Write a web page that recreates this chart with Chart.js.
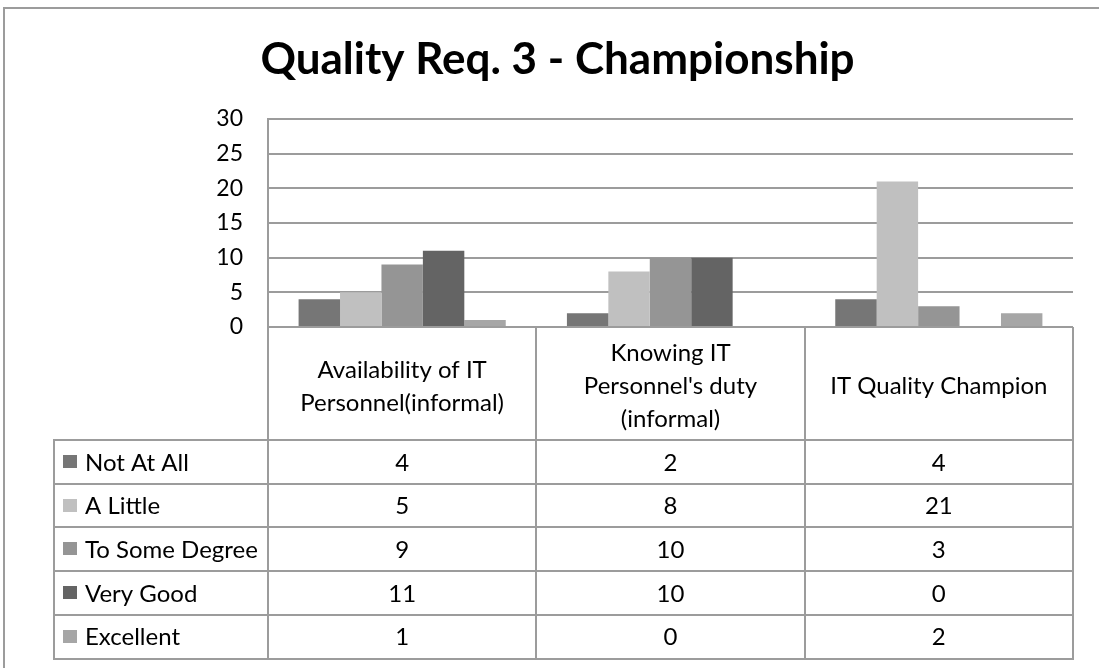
<!DOCTYPE html>
<html>
<head>
<meta charset="utf-8">
<title>Quality Req. 3 - Championship</title>
<script src="https://cdn.jsdelivr.net/npm/chart.js@4.4.1/dist/chart.umd.min.js"></script>
<style>
  html, body { margin: 0; padding: 0; background: #ffffff; }
  canvas { display: block; }
</style>
</head>
<body>
<canvas id="chart" width="1099" height="668"></canvas>
<script>
// Survey categories (multi-line labels for the table header)
const categories = [
  ["Availability of IT", "Personnel(informal)"],
  ["Knowing IT", "Personnel's duty", "(informal)"],
  ["IT Quality Champion"]
];

// Response counts per rating
const notAtAll     = [4, 2, 4];
const aLittle      = [5, 8, 21];
const toSomeDegree = [9, 10, 3];
const veryGood     = [11, 10, 0];
const excellent    = [1, 0, 2];

const seriesNames  = ["Not At All", "A Little", "To Some Degree", "Very Good", "Excellent"];
const seriesValues = [notAtAll, aLittle, toSomeDegree, veryGood, excellent];
const seriesColors = ["#767676", "#c0c0c0", "#959595", "#646464", "#a6a6a6"];

// Value axis ticks
const yTicks = [0, 5, 10, 15, 20, 25, 30];

const FONT = "Lato, 'Open Sans', 'DejaVu Sans', sans-serif";
const LINE = "#9c9c9c";

// Draws the outer frame and the data table under the plot
const dataTable = {
  id: "dataTable",
  afterDraw(chart) {
    const { ctx, chartArea } = chart;
    const n = categories.length;
    const left = chartArea.left;
    const right = chartArea.right;
    const colW = (right - left) / n;
    const top = chartArea.bottom;
    const headerH = 113;
    const rowH = 43.7;
    const legendLeft = 54;
    const headBottom = top + headerH;
    const bottom = headBottom + rowH * seriesNames.length;

    ctx.save();
    ctx.strokeStyle = LINE;
    ctx.lineWidth = 2;

    // outer frame of the chart object
    ctx.strokeRect(4, 8, 1300, 1000);

    ctx.beginPath();
    // vertical column lines
    for (let i = 0; i <= n; i++) {
      const x = Math.round(left + i * colW);
      ctx.moveTo(x, top);
      ctx.lineTo(x, bottom);
    }
    ctx.moveTo(legendLeft, headBottom);
    ctx.lineTo(legendLeft, bottom);
    // horizontal row lines
    for (let r = 0; r <= seriesNames.length; r++) {
      const y = Math.round(headBottom + r * rowH);
      ctx.moveTo(legendLeft - 1, y);
      ctx.lineTo(right + 1, y);
    }
    ctx.stroke();

    ctx.fillStyle = "#000000";
    ctx.font = "24px " + FONT;
    ctx.textBaseline = "middle";

    // header: category names
    ctx.textAlign = "center";
    const lh = 33;
    categories.forEach((lines, i) => {
      const cx = left + (i + 0.5) * colW;
      const cy = top + headerH / 2 + 3;
      const start = cy - (lines.length - 1) * lh / 2;
      lines.forEach((t, k) => ctx.fillText(t, cx, start + k * lh));
    });

    // rows: legend key, name and values
    seriesNames.forEach((name, r) => {
      const cy = headBottom + (r + 0.5) * rowH;
      ctx.fillStyle = seriesColors[r];
      ctx.fillRect(63, Math.round(cy - 7), 14, 13);
      ctx.fillStyle = "#000000";
      ctx.textAlign = "left";
      ctx.fillText(name, 85, cy + 1);
      ctx.textAlign = "center";
      seriesValues[r].forEach((v, i) => {
        ctx.fillText(String(v), left + (i + 0.5) * colW, cy + 1);
      });
    });
    ctx.restore();
  }
};

new Chart(document.getElementById("chart"), {
  type: "bar",
  data: {
    labels: categories,
    datasets: seriesNames.map((name, i) => ({
      label: name,
      data: seriesValues[i],
      backgroundColor: seriesColors[i],
      borderWidth: 0,
      categoryPercentage: 0.772,
      barPercentage: 1.0
    }))
  },
  options: {
    responsive: false,
    animation: false,
    events: [],
    layout: { padding: { left: 42, right: 26, top: 0, bottom: 341 } },
    plugins: {
      legend: { display: false },
      tooltip: { enabled: false },
      title: {
        display: true,
        text: "Quality Req. 3 - Championship",
        color: "#000000",
        font: { family: FONT, size: 44, weight: "bold" },
        padding: { top: 33.6, bottom: 32.6 }
      }
    },
    scales: {
      x: { display: false },
      y: {
        min: 0,
        max: 30,
        afterBuildTicks(scale) {
          scale.ticks = yTicks.map(v => ({ value: v }));
        },
        afterFit(scale) { scale.width = 226; },
        ticks: {
          color: "#000000",
          padding: 25,
          font: { family: FONT, size: 23 }
        },
        grid: { color: LINE, lineWidth: 2, drawTicks: false },
        border: { display: true, color: LINE, width: 2 }
      }
    }
  },
  plugins: [dataTable]
});
</script>
</body>
</html>
